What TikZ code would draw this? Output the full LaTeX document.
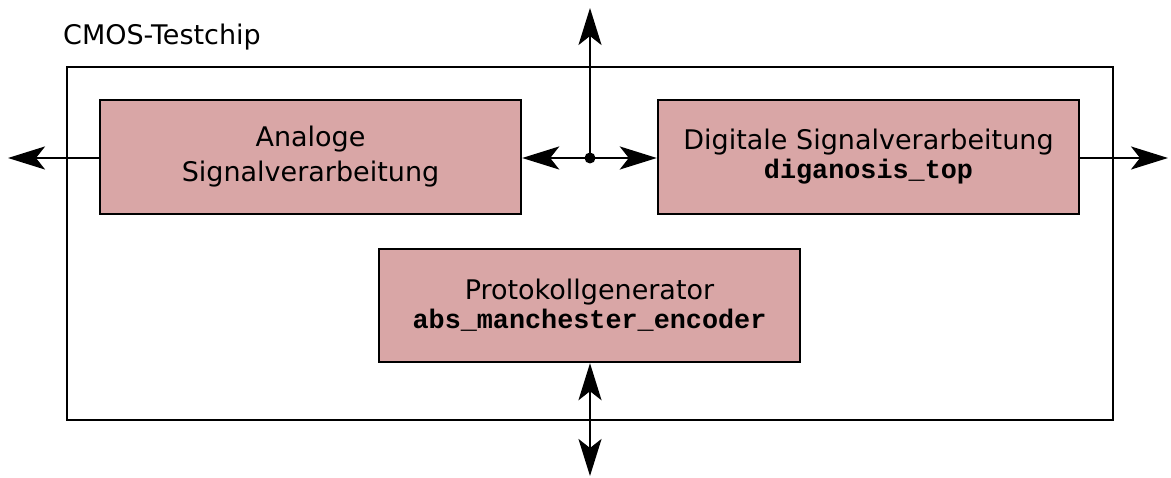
\documentclass[tikz,border=0pt]{standalone}
\usepackage{fontspec}
\setmainfont{DejaVu Sans}
\setmonofont{Liberation Mono}
\usetikzlibrary{arrows.meta}
\definecolor{blockfill}{HTML}{D9A6A6}
\tikzset{
  block/.style={draw=black, line width=2.4pt, fill=blockfill,
    minimum width=421pt, minimum height=114pt, inner sep=0pt,
    align=center, font=\fontsize{27}{35}\selectfont},
  chip/.style={draw=black, line width=2.4pt,
    minimum width=1046pt, minimum height=353pt, inner sep=0pt},
  tip/.tip={Stealth[length=37pt, width=23pt, inset=9pt]},
  sig/.style={line width=2.4pt, -tip},
  bidir/.style={line width=2.4pt, tip-tip},
}
\newcommand{\code}[1]{{\fontsize{26.8}{28}\selectfont\ttfamily\bfseries #1}}
\begin{document}
\begin{tikzpicture}[x=1pt, y=-1pt]
  \useasboundingbox (0,0) rectangle (1171,478);

  % chip outline and its title
  \node[chip] (chip) at (590,243.5) {};
  \node[anchor=base west, inner sep=0pt, font=\fontsize{27}{30}\selectfont]
    (title) at (63,45) {CMOS-Testchip};

  % functional blocks
  \node[block] (ana) at (310.5,157) {Analoge\\Signalverarbeitung};
  \node[block, font=\fontsize{27}{29}\selectfont] (dig) at (868.5,157)
    {Digitale Signalverarbeitung\\\code{diganosis\_top}};
  \node[block, minimum height=113pt, font=\fontsize{27}{29}\selectfont]
    (pro) at (589.5,305.5)
    {Protokollgenerator\\\code{abs\_manchester\_encoder}};

  % junction and free ends
  \coordinate (jn) at (590,158);
  \coordinate (up) at (590,8);
  \coordinate (lft) at (8,158);
  \coordinate (rgt) at (1168,158);
  \coordinate (down) at (590,476);

  % connections
  \draw[sig] (jn) -- (up);
  \draw[sig] (jn) -- (ana.east |- jn);
  \draw[sig] (jn) -- (dig.west |- jn);
  \draw[sig] (ana.west |- jn) -- (lft);
  \draw[sig] (dig.east |- jn) -- (rgt);
  \draw[bidir] (pro.south -| jn) -- (down);
  \fill (jn) circle (5.5pt);
\end{tikzpicture}
\end{document}
